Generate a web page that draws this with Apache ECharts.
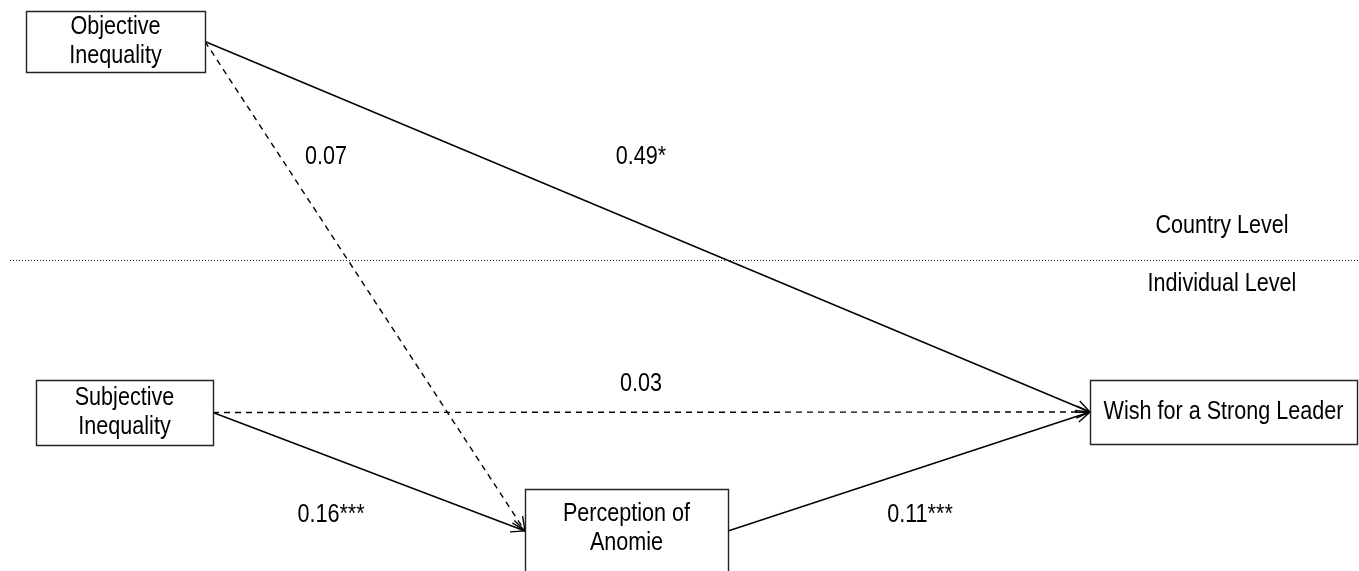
<!DOCTYPE html>
<html><head><meta charset="utf-8">
<script src="https://cdn.jsdelivr.net/npm/echarts@6/dist/echarts.min.js"></script>
<style>html,body{margin:0;padding:0;background:#fff}#c{width:1359px;height:571px}</style>
</head><body><div id="c"></div>
<script>
// Nodes (variables of the path model)
const nodeNames = ['Objective\nInequality', 'Subjective\nInequality', 'Perception of\nAnomie', 'Wish for a Strong Leader'];
// Node box layout in diagram units
const nodeLeft = [26, 36, 525, 1090];
const nodeRight = [205, 213, 728, 1357];
const nodeTop = [11, 380, 489, 380];
const nodeBottom = [72, 445, 573, 444];
// Paths
const pathFrom = [0, 0, 1, 1, 2];
const pathTo = [3, 2, 3, 2, 3];
const pathCoef = ['0.49*', '0.07', '0.03', '0.16***', '0.11***'];
const pathSignificant = [true, false, false, true, true];
// Coefficient label layout
const coefX = [641, 326, 641, 331, 920];
const coefY = [157, 157, 384, 515, 515];
// Level labels
const levelNames = ['Country Level', 'Individual Level'];
const levelX = [1222, 1222];
const levelY = [226, 284];
const dividerY = 260;
const dividerX0 = 10, dividerX1 = 1359;

const FONT = '26px "Liberation Sans", Arial, sans-serif';
const SX = 0.83;
const INK = '#000';

const chart = echarts.init(document.getElementById('c'), null, {renderer: 'canvas'});

function anchorRight(i) { return [nodeRight[i], (nodeTop[i] + nodeBottom[i]) / 2]; }
function anchorLeft(i) { return [nodeLeft[i], (nodeTop[i] + nodeBottom[i]) / 2]; }

const edgeData = pathFrom.map((f, k) => [k]);
const nodeData = nodeNames.map((n, i) => [i]);
const coefData = pathCoef.map((c, k) => [coefX[k], coefY[k], k]);
const levelData = levelNames.map((n, k) => [levelX[k], levelY[k], k]);

function label(p, txt, lh) {
  return {type: 'text', x: p[0], y: p[1], scaleX: SX, scaleY: 1,
    style: {text: txt, align: 'center', verticalAlign: 'middle', font: FONT, fill: INK, lineHeight: lh || 30}};
}

chart.setOption({
  animation: false,
  grid: {left: 0, right: 0, top: 0, bottom: 0},
  xAxis: {type: 'value', min: 0, max: 1359, show: false},
  yAxis: {type: 'value', min: 0, max: 571, inverse: true, show: false},
  series: [
    {
      type: 'custom', coordinateSystem: 'cartesian2d', silent: true,
      data: [[dividerX0, dividerY, dividerX1]],
      renderItem: function (params, api) {
        const a = api.coord([api.value(0), api.value(1)]);
        const b = api.coord([api.value(2), api.value(1)]);
        return {type: 'line', shape: {x1: a[0], y1: a[1] + 0.5, x2: b[0], y2: b[1] + 0.5},
          style: {stroke: '#222', lineWidth: 1, lineDash: [1, 2]}};
      }
    },
    {
      type: 'custom', coordinateSystem: 'cartesian2d', silent: true,
      data: edgeData,
      renderItem: function (params, api) {
        const k = api.value(0);
        const s = api.coord(anchorRight(pathFrom[k]));
        const e = api.coord(anchorLeft(pathTo[k]));
        const ang = Math.atan2(e[1] - s[1], e[0] - s[0]);
        const L = 15, spread = 0.42;
        const p1 = [e[0] - L * Math.cos(ang - spread), e[1] - L * Math.sin(ang - spread)];
        const p2 = [e[0] - L * Math.cos(ang + spread), e[1] - L * Math.sin(ang + spread)];
        const dash = pathSignificant[k] ? null : [6, 5];
        return {type: 'group', children: [
          {type: 'line', shape: {x1: s[0], y1: s[1], x2: e[0], y2: e[1]},
            style: {stroke: INK, lineWidth: 1.4, lineDash: dash}},
          {type: 'polyline', shape: {points: [p1, e, p2]},
            style: {stroke: INK, lineWidth: 1.4, fill: null}}
        ]};
      }
    },
    {
      type: 'custom', coordinateSystem: 'cartesian2d', silent: true,
      data: nodeData,
      renderItem: function (params, api) {
        const i = api.value(0);
        const a = api.coord([nodeLeft[i], nodeTop[i]]);
        const b = api.coord([nodeRight[i], nodeBottom[i]]);
        return {type: 'group', children: [
          {type: 'rect', shape: {x: a[0] + 0.5, y: a[1] + 0.5, width: b[0] - a[0], height: b[1] - a[1]},
            style: {fill: '#fff', stroke: '#222', lineWidth: 1.4}},
          label([(a[0] + b[0]) / 2, (a[1] + b[1]) / 2 + (i === 2 ? -3 : 0)], nodeNames[i], 29)
        ]};
      }
    },
    {
      type: 'custom', coordinateSystem: 'cartesian2d', silent: true,
      data: coefData,
      renderItem: function (params, api) {
        return label(api.coord([api.value(0), api.value(1)]), pathCoef[api.value(2)]);
      }
    },
    {
      type: 'custom', coordinateSystem: 'cartesian2d', silent: true,
      data: levelData,
      renderItem: function (params, api) {
        return label(api.coord([api.value(0), api.value(1)]), levelNames[api.value(2)]);
      }
    }
  ]
});
</script>
</body></html>
